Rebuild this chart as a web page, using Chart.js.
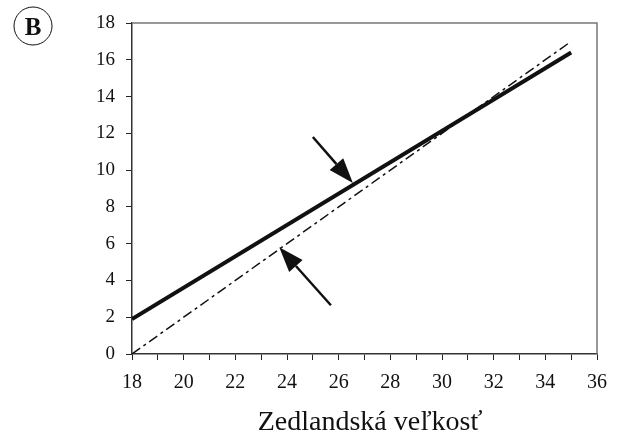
<!DOCTYPE html>
<html>
<head>
<meta charset="utf-8">
<script src="https://cdn.jsdelivr.net/npm/chart.js@4/dist/chart.umd.min.js"></script>
<style>
  html, body { margin: 0; padding: 0; background: #fff; }
  #wrap { width: 623px; height: 437px; position: relative; }
</style>
</head>
<body>
<div id="wrap"><canvas id="chart"></canvas></div>
<script>
// two fitted lines
const solidX = [18, 35];
const solidY = [1.9, 16.4];
const dashX = [18, 35];
const dashY = [0, 17];

const xTicks = [18, 20, 22, 24, 26, 28, 30, 32, 34, 36];
const yTicks = [0, 2, 4, 6, 8, 10, 12, 14, 16, 18];
const xTitle = "Zedlandská veľkosť";
const panelLabel = "B";

// arrows: [tailX, tailY, tipX, tipY] in data units
const arrows = [
  [25.0, 11.8, 26.55, 9.3],
  [25.7, 2.65, 23.7, 5.8],
];

const toPoints = (xs, ys) => xs.map((x, i) => ({ x, y: ys[i] }));

const FONT = "'Liberation Serif', 'Times New Roman', serif";

// frame, arrows, panel badge and axis title
const extras = {
  id: "extras",
  afterDraw(chart) {
    const { ctx, chartArea: a, scales } = chart;
    const sx = scales.x, sy = scales.y;
    ctx.save();

    // top + right frame
    ctx.strokeStyle = "#777";
    ctx.lineWidth = 1.5;
    ctx.beginPath();
    ctx.moveTo(a.left, a.top);
    ctx.lineTo(a.right, a.top);
    ctx.lineTo(a.right, a.bottom);
    ctx.stroke();

    // arrows
    ctx.fillStyle = "#111";
    ctx.strokeStyle = "#111";
    arrows.forEach(([x0, y0, x1, y1]) => {
      const px0 = sx.getPixelForValue(x0), py0 = sy.getPixelForValue(y0);
      const px1 = sx.getPixelForValue(x1), py1 = sy.getPixelForValue(y1);
      const ang = Math.atan2(py1 - py0, px1 - px0);
      const headLen = 25, headW = 9;
      const bx = px1 - headLen * Math.cos(ang), by = py1 - headLen * Math.sin(ang);
      ctx.lineWidth = 2.5;
      ctx.beginPath();
      ctx.moveTo(px0, py0);
      ctx.lineTo(bx, by);
      ctx.stroke();
      ctx.beginPath();
      ctx.moveTo(px1, py1);
      ctx.lineTo(bx + headW * Math.sin(ang), by - headW * Math.cos(ang));
      ctx.lineTo(bx - headW * Math.sin(ang), by + headW * Math.cos(ang));
      ctx.closePath();
      ctx.fill();
    });

    // circled B
    ctx.strokeStyle = "#111";
    ctx.lineWidth = 1;
    ctx.beginPath();
    ctx.arc(33, 26, 19, 0, Math.PI * 2);
    ctx.stroke();
    ctx.fillStyle = "#111";
    ctx.font = "bold 25px " + FONT;
    ctx.textAlign = "center";
    ctx.textBaseline = "alphabetic";
    ctx.fillText(panelLabel, 33, 35);

    // x axis title
    ctx.font = "28px " + FONT;
    ctx.fillText(xTitle, 370, 430);
    ctx.restore();
  },
};

new Chart(document.getElementById("chart"), {
  type: "scatter",
  data: {
    datasets: [
      {
        data: toPoints(solidX, solidY),
        showLine: true,
        borderColor: "#111",
        borderWidth: 4,
        pointRadius: 0,
      },
      {
        data: toPoints(dashX, dashY),
        showLine: true,
        borderColor: "#111",
        borderWidth: 1.5,
        borderDash: [10, 4, 3, 4],
        pointRadius: 0,
      },
    ],
  },
  options: {
    responsive: true,
    maintainAspectRatio: false,
    animation: false,
    layout: { padding: { top: 23, right: 26, left: 0, bottom: 0 } },
    plugins: { legend: { display: false }, tooltip: { enabled: false } },
    scales: {
      x: {
        min: xTicks[0],
        max: xTicks[xTicks.length - 1],
        border: { display: true, color: "#333", width: 1.5 },
        grid: { display: true, drawOnChartArea: false, drawTicks: true, tickLength: 6, color: "#222" },
        ticks: {
          stepSize: 1,
          autoSkip: false,
          maxRotation: 0,
          padding: 11,
          color: "#111",
          font: { family: FONT, size: 20 },
          callback: (v) => (xTicks.includes(v) ? v : ""),
        },
        afterFit: (s) => { s.height = 437 - 354; },
      },
      y: {
        min: yTicks[0],
        max: yTicks[yTicks.length - 1],
        border: { display: true, color: "#333", width: 1.5 },
        grid: { display: true, drawOnChartArea: false, drawTicks: true, tickLength: 6, color: "#222" },
        ticks: {
          stepSize: 2,
          padding: 11,
          color: "#111",
          font: { family: FONT, size: 19 },
        },
        afterFit: (s) => { s.width = 132; },
      },
    },
  },
  plugins: [extras],
});
</script>
</body>
</html>
